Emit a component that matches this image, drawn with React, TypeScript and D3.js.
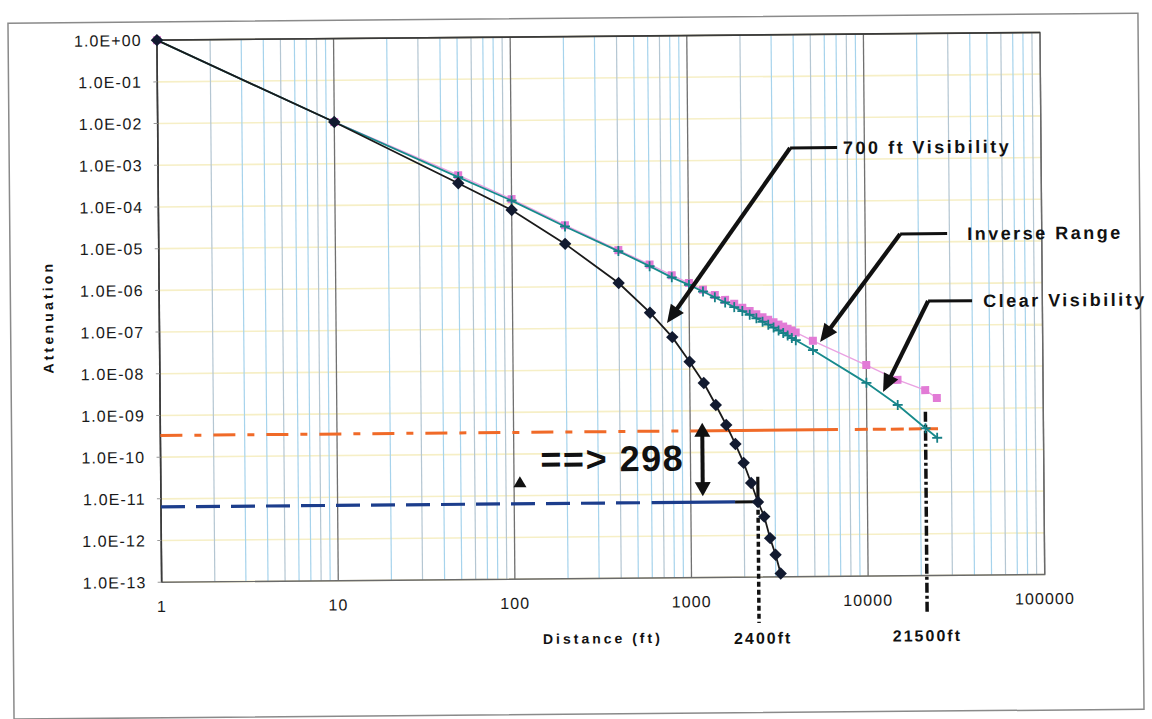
import React from "react"
import * as d3 from "d3"

// distances (ft) sampled for the 700 ft visibility curve
const fogDistance = [1, 10, 50, 100, 200, 400, 600, 800, 1000, 1200, 1400, 1600, 1800, 2000, 2200, 2400, 2600, 2800, 3000, 3200]
const fogAtten = [1, 1e-2, 3.2e-4, 7.1e-5, 1.07e-5, 1.2e-6, 2.3e-7, 5.9e-8, 1.5e-8, 4.6e-9, 1.36e-9, 4.5e-10, 1.56e-10, 5.5e-11, 1.8e-11, 6.3e-12, 2.8e-12, 8.5e-13, 3.4e-13, 1.2e-13]

// distances (ft) for inverse range / clear visibility
const rangeDistance = [1, 10, 50, 100, 200, 400, 600, 800, 1000, 1200, 1400, 1600, 1800, 2000, 2200, 2400, 2600, 2800, 3000, 3200, 3400, 3600, 3800, 4000, 5000, 10000, 15000, 21500, 25000]
const inverseRange = [1, 1e-2, 5.0e-4, 1.3e-4, 3.0e-5, 7.4e-6, 3.3e-6, 1.8e-6, 1.16e-6, 8.0e-7, 5.9e-7, 4.5e-7, 3.6e-7, 2.9e-7, 2.4e-7, 2.0e-7, 1.7e-7, 1.47e-7, 1.28e-7, 1.12e-7, 1.0e-7, 8.9e-8, 8.0e-8, 7.2e-8, 4.5e-8, 1.15e-8, 5.0e-9, 2.8e-9, 1.8e-9]
const clearVis = [1, 1e-2, 4.5e-4, 1.2e-4, 2.8e-5, 7.0e-6, 3.0e-6, 1.6e-6, 1.05e-6, 7.2e-7, 5.2e-7, 3.9e-7, 3.0e-7, 2.4e-7, 1.95e-7, 1.6e-7, 1.32e-7, 1.12e-7, 9.5e-8, 8.1e-8, 7.0e-8, 6.1e-8, 5.3e-8, 4.7e-8, 2.7e-8, 4.3e-9, 1.25e-9, 3.4e-10, 2.0e-10]

// stray triangle marker
const triPoint = [{ x: 108, y: 2.1e-11 }]

// reference levels drawn by hand on the chart
const clearLevel = 3.3e-10
const fogLevel = 6.4e-12
const fogCut = 2400
const clearCut = 21500

const xTickValues = [1, 10, 100, 1000, 10000, 100000]
const xTickLabels = ["1", "10", "100", "1000", "10000", "100000"]
const yTickValues = [1, 1e-1, 1e-2, 1e-3, 1e-4, 1e-5, 1e-6, 1e-7, 1e-8, 1e-9, 1e-10, 1e-11, 1e-12, 1e-13]
const yTickLabels = ["1.0E+00", "1.0E-01", "1.0E-02", "1.0E-03", "1.0E-04", "1.0E-05", "1.0E-06", "1.0E-07", "1.0E-08", "1.0E-09", "1.0E-10", "1.0E-11", "1.0E-12", "1.0E-13"]

// callouts: knee and arrow tip in data units
const callouts = [
  { label: "700 ft Visibility", knee: [3795, 1.91e-3], tip: [748, 1.29e-7], lead: 47, textDx: 53 },
  { label: "Inverse Range", knee: [15780, 1.57e-5], tip: [5490, 4.2e-8], lead: 47, textDx: 67 },
  { label: "Clear Visibility", knee: [22550, 3.83e-7], tip: [12410, 2.57e-9], lead: 44, textDx: 55 },
]
const ratioX = 1170

const FONT = "'Liberation Sans', Arial, sans-serif"

function Arrow({ x1, y1, x2, y2, w = 4, len = 17, hw = 8, both = false }: any) {
  const a = Math.atan2(y2 - y1, x2 - x1)
  const head = (tx: number, ty: number, ang: number) => {
    const bx = tx - Math.cos(ang) * len
    const by = ty - Math.sin(ang) * len
    const px = -Math.sin(ang) * hw
    const py = Math.cos(ang) * hw
    return `${tx},${ty} ${bx + px},${by + py} ${bx - px},${by - py}`
  }
  const sx = both ? x1 + Math.cos(a) * len * 0.8 : x1
  const sy = both ? y1 + Math.sin(a) * len * 0.8 : y1
  return (
    <g>
      <line x1={sx} y1={sy} x2={x2 - Math.cos(a) * len * 0.8} y2={y2 - Math.sin(a) * len * 0.8} stroke="#111" strokeWidth={w} />
      <polygon points={head(x2, y2, a)} fill="#111" />
      {both && <polygon points={head(x1, y1, a + Math.PI)} fill="#111" />}
    </g>
  )
}

export default function App() {
  const W = 1152, H = 719
  const left = 159.3, right = 1042.4, top = 36.3, bottom = 578.4
  const x = d3.scaleLog().domain([1, 100000]).range([left, right])
  const y = d3.scaleLog().domain([1e-13, 1]).range([bottom, top])

  const minor: number[] = []
  for (let d = 1; d < 100000; d *= 10) for (let m = 2; m <= 9; m++) minor.push(d * m)

  const line = d3.line<[number, number]>().x(d => x(d[0])).y(d => y(d[1]))
  const fog = fogDistance.map((d, i) => [d, fogAtten[i]] as [number, number])
  const inv = rangeDistance.map((d, i) => [d, inverseRange[i]] as [number, number])
  const clr = rangeDistance.map((d, i) => [d, clearVis[i]] as [number, number])

  const yClear = y(clearLevel)
  const yFog = y(fogLevel)

  return (
    <svg width={W} height={H} style={{ position: "absolute", left: 0, top: 0, background: "#fff" }} fontFamily={FONT}>
      <g transform="rotate(-0.5 600 310)">
        <rect x={10.5} y={18} width={1130} height={696} fill="#fff" stroke="#8a8a8a" strokeWidth={1.5} />

        {/* horizontal grid */}
        {yTickValues.map(v => (
          <line key={"h" + v} x1={left} x2={right} y1={y(v)} y2={y(v)} stroke="#f6efc6" strokeWidth={1.6} />
        ))}
        {/* vertical grid */}
        {minor.map((v, i) => (
          <line key={"m" + v} x1={x(v)} x2={x(v)} y1={top} y2={bottom} stroke={i % 3 === 0 ? "#b4c6d2" : "#a6d3ec"} strokeWidth={1.2} />
        ))}
        {xTickValues.map(v => (
          <line key={"M" + v} x1={x(v)} x2={x(v)} y1={top} y2={bottom} stroke="#707070" strokeWidth={1.3} />
        ))}
        <rect x={left} y={top} width={right - left} height={bottom - top} fill="none" stroke="#6a6a6a" strokeWidth={1.4} />
        <line x1={left} x2={right} y1={top} y2={top} stroke="#3a3a3a" strokeWidth={1.6} />
        <line x1={left} x2={left} y1={top} y2={bottom} stroke="#3a3a3a" strokeWidth={1.6} />

        {/* y ticks and labels */}
        {yTickValues.map((v, i) => (
          <g key={"yt" + v}>
            <line x1={left - 4} x2={left} y1={y(v)} y2={y(v)} stroke="#999" strokeWidth={1} />
            <text x={144} y={y(v)} dy="0.36em" textAnchor="end" fontSize={16} letterSpacing={1.1} fill="#1a1a1a">{yTickLabels[i]}</text>
          </g>
        ))}
        {xTickValues.map((v, i) => (
          <text key={"xt" + v} x={x(v)} y={bottom + 24} dy="0.36em" textAnchor="middle" fontSize={16} letterSpacing={1.1} fill="#1a1a1a">{xTickLabels[i]}</text>
        ))}

        <text transform={`translate(48,${(top + bottom) / 2 + 5}) rotate(-90)`} textAnchor="middle" dy="0.36em" fontSize={14} fontWeight="bold" letterSpacing={3.2} fill="#111">Attenuation</text>
        <text x={600} y={bottom + 60} dy="0.36em" textAnchor="middle" fontSize={14} fontWeight="bold" letterSpacing={3} fill="#111">Distance (ft)</text>

        {/* reference levels */}
        <line x1={x(1)} x2={x(1000)} y1={yClear} y2={yClear} stroke="#f06a28" strokeWidth={3} strokeDasharray="22 12 7 12" />
        <line x1={x(1000)} x2={x(6860)} y1={yClear} y2={yClear} stroke="#f06a28" strokeWidth={3} />
        <line x1={x(8550)} x2={x(25300)} y1={yClear} y2={yClear} stroke="#f06a28" strokeWidth={3} strokeDasharray="13 5" />

        <line x1={x(1)} x2={x(590)} y1={yFog} y2={yFog} stroke="#1c3d8c" strokeWidth={3.2} strokeDasharray="24 11" />
        <line x1={x(600)} x2={x(1780)} y1={yFog} y2={yFog} stroke="#1c3d8c" strokeWidth={3.2} />
        <line x1={x(1780)} x2={x(fogCut)} y1={yFog} y2={yFog} stroke="#111" strokeWidth={3} />

        <line x1={x(fogCut)} x2={x(fogCut)} y1={yFog - 25} y2={yFog} stroke="#111" strokeWidth={3.2} />
        <line x1={x(fogCut)} x2={x(fogCut)} y1={yFog} y2={bottom + 46} stroke="#111" strokeWidth={3.5} strokeDasharray="5 3" />
        <line x1={x(clearCut)} x2={x(clearCut)} y1={yClear - 17} y2={bottom + 38} stroke="#111" strokeWidth={3.5} strokeDasharray="10 3 3 3" />

        <text x={x(fogCut) + 4} y={bottom + 61} dy="0.36em" textAnchor="middle" fontSize={16} fontWeight="bold" letterSpacing={2} fill="#111">2400ft</text>
        <text x={x(clearCut)} y={bottom + 60} dy="0.36em" textAnchor="middle" fontSize={16} fontWeight="bold" letterSpacing={2} fill="#111">21500ft</text>

        {/* series */}
        <path d={line(inv) || ""} fill="none" stroke="#eaa2e2" strokeWidth={1.4} />
        {inv.map((d, i) => (
          <rect key={"p" + i} x={x(d[0]) - 4} y={y(d[1]) - 4} width={8} height={8} fill="#e27bd6" />
        ))}
        <path d={line(clr) || ""} fill="none" stroke="#178a8c" strokeWidth={1.8} />
        {clr.map((d, i) => (
          <path key={"c" + i} d={`M${x(d[0]) - 5},${y(d[1])}h10M${x(d[0])},${y(d[1]) - 5}v10`} stroke="#167f86" strokeWidth={1.8} />
        ))}
        <path d={line(fog) || ""} fill="none" stroke="#1a1a1a" strokeWidth={1.8} />
        {fog.map((d, i) => {
          const cx = x(d[0]), cy = y(d[1])
          return <polygon key={"f" + i} points={`${cx},${cy - 6.2} ${cx + 6.2},${cy} ${cx},${cy + 6.2} ${cx - 6.2},${cy}`} fill="#121a30" />
        })}
        {triPoint.map((d, i) => {
          const cx = x(d.x), cy = y(d.y)
          return <polygon key={"t" + i} points={`${cx},${cy - 6} ${cx + 6.5},${cy + 5} ${cx - 6.5},${cy + 5}`} fill="#111" />
        })}

        {/* callouts */}
        {callouts.map(c => {
          const kx = x(c.knee[0]), ky = y(c.knee[1])
          return (
            <g key={c.label}>
              <line x1={kx} x2={kx + c.lead} y1={ky} y2={ky} stroke="#111" strokeWidth={3} />
              <Arrow x1={kx} y1={ky} x2={x(c.tip[0])} y2={y(c.tip[1])} w={4.2} len={18} hw={8} />
              <text x={kx + c.textDx} y={ky} dy="0.36em" fontSize={18} fontWeight="bold" letterSpacing={2.5} fill="#111">{c.label}</text>
            </g>
          )
        })}

        <Arrow x1={x(ratioX)} y1={yClear - 8} x2={x(ratioX)} y2={yFog - 6} w={4} len={14} hw={8} both />
        <text x={x(ratioX) - 162} y={(yClear + yFog) / 2 - 9} dy="0.36em" fontSize={36} fontWeight="bold" letterSpacing={1.5} fill="#111">==&gt; 298</text>
      </g>
    </svg>
  )
}
